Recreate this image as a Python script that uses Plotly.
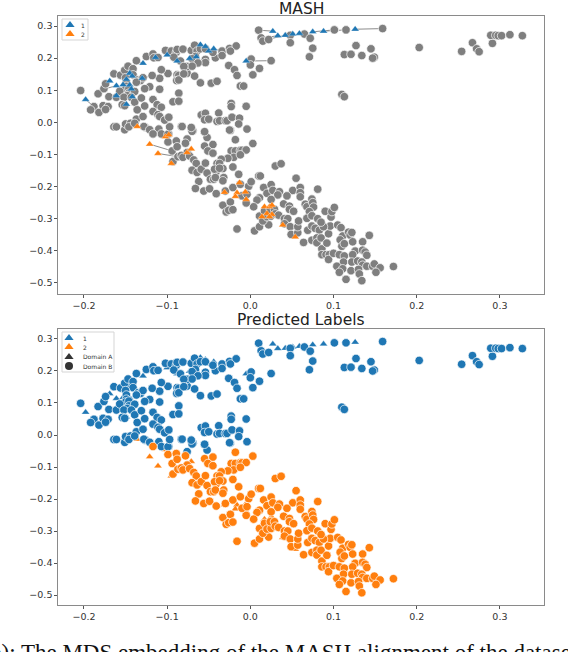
import plotly.graph_objects as go

BLUE = "#1f77b4"
ORANGE = "#ff7f0e"
GRAY = "#7f7f7f"

# Domain B points, predicted label 1 (x, y)
blue_pts = [
(-0.204,0.099),(-0.188,0.049),(-0.192,0.039),(-0.182,0.031),(-0.177,0.052),(-0.171,0.049),(-0.174,0.040),
(-0.183,0.089),(-0.176,0.105),(-0.174,0.120),(-0.164,0.151),(-0.170,0.080),(-0.161,0.078),(-0.156,0.147),
(-0.151,0.162),(-0.147,0.175),(-0.141,0.167),(-0.141,0.148),(-0.137,0.192),(-0.125,0.205),(-0.117,0.213),
(-0.116,0.201),(-0.111,0.202),(-0.102,0.224),(-0.095,0.222),(-0.089,0.218),(-0.088,0.227),(-0.081,0.228),
(-0.092,0.203),(-0.084,0.191),(-0.077,0.174),(-0.079,0.151),(-0.076,0.153),(-0.088,0.148),(-0.086,0.146),
(-0.0885,0.130),(-0.086,0.132),(-0.099,0.152),(-0.107,0.164),(-0.109,0.137),(-0.118,0.146),(-0.109,0.103),
(-0.121,0.111),(-0.127,0.105),(-0.135,0.132),(-0.132,0.130),(-0.129,0.139),(-0.137,0.125),(-0.150,0.139),
(-0.149,0.125),(-0.149,0.112),(-0.150,0.103),(-0.146,0.106),(-0.146,0.091),(-0.139,0.096),(-0.157,0.097),
(-0.148,0.083),(-0.152,0.078),(-0.143,0.078),(-0.154,0.055),(-0.151,0.052),(-0.139,0.063),(-0.131,0.076),
(-0.136,0.039),(-0.127,0.051),(-0.117,0.071),(-0.112,0.055),(-0.107,0.047),(-0.093,0.064),(-0.086,0.091),
(-0.086,0.066),(-0.117,0.034),(-0.111,0.024),(-0.109,0.018),(-0.103,0.007),(-0.098,0.016),
(-0.164,-0.014),(-0.161,-0.014),(-0.151,-0.023),(-0.150,-0.005),(-0.144,-0.003),(-0.146,-0.014),(-0.137,0.010),
(-0.139,-0.003),(-0.129,0.018),(-0.126,-0.016),(-0.128,-0.013),(-0.121,-0.023),(-0.110,-0.021),(-0.107,-0.036),
(-0.098,-0.036),(-0.099,-0.037),(-0.097,-0.014),(-0.083,-0.013),(-0.071,-0.019),(-0.069,-0.026),(-0.076,-0.052),
(-0.070,-0.028),(-0.055,-0.030),(-0.052,-0.047),(-0.024,-0.025),(-0.004,-0.021),
(-0.071,0.224),(-0.067,0.240),(-0.064,0.222),(-0.060,0.229),(-0.054,0.229),(-0.066,0.205),(-0.070,0.198),
(-0.054,0.196),(-0.054,0.186),(-0.063,0.185),(-0.042,0.201),(-0.045,0.218),(-0.034,0.222),(-0.034,0.208),
(-0.025,0.230),(-0.017,0.238),(-0.024,0.222),(-0.076,0.174),(-0.070,0.175),(-0.080,0.174),(-0.080,0.151),
(-0.067,0.144),(-0.060,0.123),(-0.047,0.122),(-0.040,0.128),(-0.026,0.177),(-0.019,0.164),(-0.016,0.146),
(-0.012,0.113),(-0.008,0.113),(0.010,0.287),(0.013,0.263),(0.015,0.253),(0.022,0.258),(0.048,0.271),(0.048,0.248),
(0.001,0.197),(0.000,0.179),(0.011,0.168),(0.003,0.148),(0.025,0.192),(-0.005,0.050),(-0.023,0.059),(-0.023,0.049),
(-0.038,0.029),(-0.059,0.023),(-0.054,0.028),(-0.055,0.008),(-0.050,0.010),(-0.040,0.003),(-0.037,0.005),
(-0.030,0.005),(-0.028,0.005),(-0.022,0.016),(-0.013,0.013),(-0.014,-0.005),(-0.082,-0.013),(-0.071,-0.016),
(-0.055,-0.029),(-0.025,-0.024),
(0.159,0.292),(0.115,0.288),(0.101,0.288),(0.065,0.275),(0.072,0.262),(0.075,0.231),(0.071,0.204),(0.127,0.239),
(0.113,0.211),(0.121,0.212),(0.134,0.208),(0.145,0.229),(0.149,0.203),(0.147,0.200),(0.203,0.233),(0.254,0.221),
(0.267,0.248),(0.272,0.229),(0.275,0.220),(0.291,0.246),(0.289,0.271),(0.295,0.271),(0.298,0.270),(0.302,0.270),
(0.312,0.273),(0.327,0.270),(0.110,0.087),(0.113,0.080),
]

# Domain B points, predicted label 2 (x, y)
orange_pts = [
(-0.117,-0.036),(-0.099,-0.061),(-0.089,-0.058),(-0.078,-0.065),(-0.094,-0.089),(-0.088,-0.076),(-0.076,-0.094),
(-0.093,-0.122),(-0.087,-0.107),(-0.083,-0.103),(-0.081,-0.109),(-0.073,-0.105),(-0.068,-0.117),(-0.065,-0.128),
(-0.070,-0.149),(-0.064,-0.156),(-0.059,-0.146),(-0.054,-0.127),(-0.052,-0.158),(-0.062,-0.184),(-0.066,-0.206),
(-0.055,-0.074),(-0.045,-0.069),(-0.051,-0.089),(-0.045,-0.096),(-0.018,-0.054),(0.003,-0.066),(-0.023,-0.089),
(-0.018,-0.089),(-0.012,-0.087),(-0.010,-0.087),(-0.005,-0.086),(-0.020,-0.109),(-0.012,-0.101),(-0.027,-0.112),
(-0.035,-0.115),(-0.040,-0.128),(-0.037,-0.128),(-0.033,-0.144),(-0.041,-0.153),(-0.043,-0.146),(-0.037,-0.143),
(-0.021,-0.139),(-0.014,-0.162),(-0.048,-0.177),(-0.044,-0.177),(-0.042,-0.172),(-0.032,-0.172),(-0.033,-0.182),
(-0.056,-0.214),(-0.049,-0.207),(-0.041,-0.222),(-0.030,-0.214),(-0.021,-0.203),(-0.012,-0.193),(-0.002,-0.199),
(0.001,-0.185),(0.010,-0.167),(0.012,-0.167),(0.030,-0.136),(0.037,-0.129),(0.055,-0.174),(0.081,-0.208),
(0.016,-0.203),(0.020,-0.221),(0.025,-0.194),(0.027,-0.212),(0.035,-0.216),(0.033,-0.226),(0.025,-0.240),
(0.011,-0.235),(0.008,-0.242),(0.004,-0.263),(-0.005,-0.251),(-0.010,-0.229),(-0.004,-0.224),(-0.033,-0.258),
(-0.024,-0.248),(-0.029,-0.279),(-0.026,-0.274),(-0.021,-0.272),(-0.016,-0.332),(0.005,-0.338),(0.011,-0.325),
(0.022,-0.319),(0.011,-0.292),(0.017,-0.276),(0.015,-0.307),(0.020,-0.294),(0.025,-0.292),(0.024,-0.271),
(0.029,-0.271),(0.030,-0.285),(0.034,-0.289),(0.040,-0.254),(0.047,-0.261),(0.047,-0.271),(0.052,-0.277),
(0.041,-0.300),(0.045,-0.300),(0.041,-0.316),(0.048,-0.325),(0.049,-0.349),(0.057,-0.344),(0.057,-0.325),
(0.058,-0.307),(0.064,-0.374),(0.051,-0.212),(0.044,-0.229),(0.060,-0.203),(0.060,-0.219),(0.060,-0.232),
(0.066,-0.255),(0.068,-0.263),(0.074,-0.239),(0.075,-0.250),(0.076,-0.264),(0.071,-0.278),(0.068,-0.299),
(0.074,-0.291),(0.081,-0.300),(0.069,-0.336),(0.074,-0.323),(0.078,-0.330),(0.083,-0.336),(0.074,-0.367),
(0.080,-0.360),(0.080,-0.375),(0.085,-0.360),(0.086,-0.394),(0.086,-0.412),(0.092,-0.376),(0.094,-0.347),
(0.096,-0.323),(0.088,-0.325),(0.085,-0.311),(0.090,-0.277),(0.097,-0.295),(0.098,-0.278),(0.101,-0.265),
(0.105,-0.320),(0.109,-0.328),(0.111,-0.354),(0.118,-0.342),(0.120,-0.351),(0.122,-0.343),(0.108,-0.366),
(0.110,-0.386),(0.113,-0.378),(0.123,-0.372),(0.126,-0.401),(0.135,-0.372),(0.143,-0.352),(0.135,-0.398),
(0.138,-0.404),(0.140,-0.414),(0.091,-0.412),(0.095,-0.412),(0.094,-0.427),(0.100,-0.408),(0.107,-0.412),
(0.113,-0.416),(0.123,-0.412),(0.112,-0.435),(0.122,-0.435),(0.129,-0.432),(0.134,-0.435),(0.135,-0.445),
(0.104,-0.448),(0.111,-0.456),(0.107,-0.467),(0.121,-0.462),(0.130,-0.458),(0.131,-0.472),(0.140,-0.448),
(0.147,-0.448),(0.149,-0.441),(0.156,-0.453),(0.151,-0.467),(0.172,-0.449),(0.115,-0.489),(0.134,-0.493),
]

# Domain A triangles and the Domain B point each one is aligned with (x, y, px, py)
tri_blue = [
(0.027,0.284,0.010,0.287),(0.033,0.270,0.014,0.262),(0.042,0.271,0.022,0.259),(0.051,0.275,0.048,0.271),
(0.059,0.277,0.065,0.275),(0.075,0.282,0.101,0.288),(0.088,0.284,0.115,0.288),(0.126,0.290,0.159,0.292),
(-0.005,0.191,0.025,0.192),(-0.198,0.071,-0.188,0.049),(-0.169,0.129,-0.176,0.105),(-0.161,0.114,-0.174,0.105),
(-0.161,0.083,-0.157,0.097),(-0.153,0.117,-0.149,0.125),(-0.149,0.134,-0.150,0.139),(-0.145,0.153,-0.141,0.148),
(-0.142,0.144,-0.141,0.148),(-0.145,0.116,-0.146,0.106),(-0.143,0.104,-0.139,0.096),(-0.142,0.080,-0.143,0.078),
(-0.149,0.056,-0.151,0.052),(-0.130,0.137,-0.118,0.146),(-0.129,0.184,-0.137,0.192),(-0.114,0.202,-0.116,0.201),
(-0.100,0.210,-0.102,0.224),(-0.088,0.191,-0.084,0.191),(-0.073,0.199,-0.070,0.198),(-0.065,0.204,-0.066,0.205),
(-0.060,0.242,-0.067,0.240),(-0.054,0.236,-0.060,0.229),(-0.050,0.222,-0.054,0.229),(-0.044,0.229,-0.034,0.222),
]
tri_orange = [
(-0.136,-0.013,-0.137,0.010),(-0.102,-0.045,-0.097,-0.061),(-0.098,-0.039,-0.099,-0.061),(-0.121,-0.068,-0.094,-0.089),
(-0.111,-0.097,-0.087,-0.107),(-0.095,-0.128,-0.087,-0.107),(-0.076,-0.094,-0.076,-0.094),(-0.071,-0.083,-0.073,-0.105),
(-0.013,-0.188,-0.012,-0.193),(-0.031,-0.218,-0.030,-0.214),(-0.016,-0.219,-0.010,-0.229),(-0.018,-0.231,-0.010,-0.229),
(-0.006,-0.217,-0.002,-0.199),(-0.005,-0.240,-0.005,-0.251),(0.017,-0.263,0.017,-0.276),(0.023,-0.263,0.024,-0.271),
(0.026,-0.258,0.029,-0.271),(0.020,-0.284,0.020,-0.294),(0.026,-0.287,0.025,-0.292),(0.023,-0.294,0.025,-0.292),
(0.014,-0.294,0.011,-0.292),(0.039,-0.320,0.041,-0.316),(0.054,-0.357,0.049,-0.349),
]

legend_labels = ["1", "2", "Domain A", "Domain B"]
x_ticks = [-0.2, -0.1, 0.0, 0.1, 0.2, 0.3]
y_ticks = [0.3, 0.2, 0.1, 0.0, -0.1, -0.2, -0.3, -0.4, -0.5]
titles = ["MASH", "Predicted Labels"]
caption = "b): The MDS embedding of the MASH alignment of the dataset"

W, H = 568, 652
CIRCLE = dict(symbol="circle", size=8.5, line=dict(color="white", width=0.7))
TRI = dict(symbol="triangle-up", size=7, line=dict(color="white", width=0.3))

def col(pts, i):
    return [p[i] for p in pts]

fig = go.Figure()

all_pts = blue_pts + orange_pts
lx, ly = [], []
for t in tri_blue + tri_orange:
    lx += [t[0], t[2], None]
    ly += [t[1], t[3], None]
fig.add_trace(go.Scatter(x=lx, y=ly, mode="lines", line=dict(color="#8c8c8c", width=1),
                         hoverinfo="skip", xaxis="x", yaxis="y"))
fig.add_trace(go.Scatter(x=col(all_pts, 0), y=col(all_pts, 1), mode="markers",
                         marker=dict(color=GRAY, **CIRCLE), xaxis="x", yaxis="y"))
fig.add_trace(go.Scatter(x=col(tri_blue, 0), y=col(tri_blue, 1), mode="markers",
                         marker=dict(color=BLUE, **TRI), xaxis="x", yaxis="y"))
fig.add_trace(go.Scatter(x=col(tri_orange, 0), y=col(tri_orange, 1), mode="markers",
                         marker=dict(color=ORANGE, **TRI), xaxis="x", yaxis="y"))

fig.add_trace(go.Scatter(x=col(tri_blue, 0), y=col(tri_blue, 1), mode="markers",
                         marker=dict(color=BLUE, **TRI), xaxis="x2", yaxis="y2"))
fig.add_trace(go.Scatter(x=col(tri_orange, 0), y=col(tri_orange, 1), mode="markers",
                         marker=dict(color=ORANGE, **TRI), xaxis="x2", yaxis="y2"))
fig.add_trace(go.Scatter(x=col(blue_pts, 0), y=col(blue_pts, 1), mode="markers",
                         marker=dict(color=BLUE, **CIRCLE), xaxis="x2", yaxis="y2"))
fig.add_trace(go.Scatter(x=col(orange_pts, 0), y=col(orange_pts, 1), mode="markers",
                         marker=dict(color=ORANGE, **CIRCLE), xaxis="x2", yaxis="y2"))

# compact legends (smaller than the native legend's minimum size), on a page-pixel axis pair
LEG_DARK = "#333333"
key_x = [70, 70, 69, 69, 69, 69]
key_y = [25, 34, 338, 347, 357, 366]
key_sym = ["triangle-up", "triangle-up", "triangle-up", "triangle-up", "triangle-up", "circle"]
key_col = [BLUE, ORANGE, BLUE, ORANGE, LEG_DARK, LEG_DARK]
fig.add_trace(go.Scatter(x=key_x, y=key_y, mode="markers", hoverinfo="skip",
                         marker=dict(symbol=key_sym, color=key_col, size=8), xaxis="x3", yaxis="y3"))

xdom = [58 / W, 544 / W]
xrange_ = [-0.2312, 0.353]
axis_common = dict(showgrid=False, zeroline=False, showline=True, mirror=True, linecolor="#8a8a8a", linewidth=1.3,
                   ticks="outside", ticklen=2.5, tickwidth=0.8, tickcolor="#555555",
                   tickfont=dict(family="DejaVu Sans", size=9.5, color="#333333"))
ylabel = [f"{v:.1f}".replace("-", "\u2212") for v in y_ticks]
xlabel = [f"{v:.1f}".replace("-", "\u2212") for v in x_ticks]

def page_text(text, px, py, size, family="DejaVu Sans", color="#333333", anchor="left"):
    return dict(text=text, x=px / W, y=1 - py / H, xref="paper", yref="paper", showarrow=False,
                xanchor=anchor, yanchor="middle", font=dict(family=family, size=size, color=color))

def box(x0, y0, x1, y1):
    return dict(type="rect", xref="paper", yref="paper", x0=x0 / W, x1=x1 / W, y0=1 - y0 / H, y1=1 - y1 / H,
                line=dict(color="#d5d5d5", width=1), fillcolor="rgba(255,255,255,0.85)", layer="below")

annotations = [
    page_text(titles[0], 301, 9.5, 15.5, color="#222222", anchor="center"),
    page_text(titles[1], 301, 320, 15.5, color="#222222", anchor="center"),
    page_text(legend_labels[0], 83, 25, 6, anchor="center"),
    page_text(legend_labels[1], 83, 34, 6, anchor="center"),
    page_text(legend_labels[0], 81, 338, 6),
    page_text(legend_labels[1], 81, 347, 6),
    page_text(legend_labels[2], 81, 357, 6),
    page_text(legend_labels[3], 81, 366, 6),
    page_text(caption, -12, 652, 23, family="Liberation Serif", color="#111111"),
]

fig.update_layout(
    width=W, height=H, margin=dict(l=0, r=0, t=0, b=0), paper_bgcolor="white", plot_bgcolor="rgba(0,0,0,0)",
    showlegend=False,
    xaxis=dict(domain=xdom, range=xrange_, anchor="y", tickvals=x_ticks, ticktext=xlabel, **axis_common),
    yaxis=dict(domain=[1 - 294 / H, 1 - 16 / H], range=[-0.5346, 0.3312], anchor="x", tickvals=y_ticks, ticktext=ylabel, **axis_common),
    xaxis2=dict(domain=xdom, range=xrange_, anchor="y2", tickvals=x_ticks, ticktext=xlabel, **axis_common),
    yaxis2=dict(domain=[1 - 605 / H, 1 - 329 / H], range=[-0.5312, 0.3312], anchor="x2", tickvals=y_ticks, ticktext=ylabel, **axis_common),
    xaxis3=dict(domain=[0, 1], range=[0, W], visible=False, anchor="y3"),
    yaxis3=dict(domain=[0, 1], range=[H, 0], visible=False, anchor="x3"),
    shapes=[box(62, 19, 88, 40), box(62, 332, 114, 372)],
    annotations=annotations,
)

fig.write_html("out.html", config={"displayModeBar": False},
               post_script="document.body.style.margin='0';document.body.style.overflow='hidden';")
